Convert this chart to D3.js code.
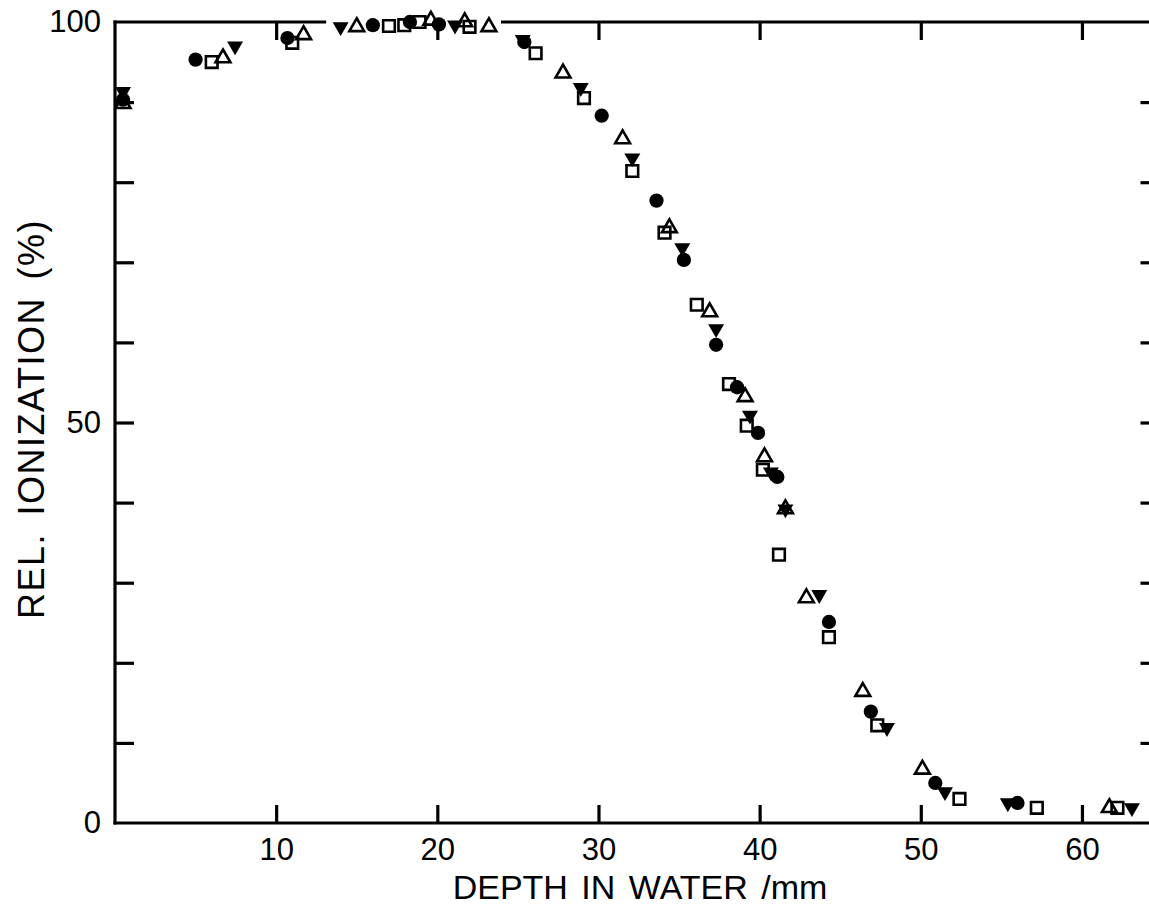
<!DOCTYPE html>
<html>
<head>
<meta charset="utf-8">
<script src="https://cdn.jsdelivr.net/npm/d3@7"></script>
<style>
  body { margin: 0; background: #fff; }
  text { font-family: "Liberation Sans", Arial, Helvetica, sans-serif; fill: #000; }
</style>
</head>
<body>
<svg id="chart" width="1149" height="906"></svg>
<script>
(function(){

  // depth (mm) / relative ionization (%) for each marker type
  const circleDepth = [0.5, 5.0, 10.7, 16.0, 18.3, 20.1, 25.4, 30.2, 33.6, 35.3, 37.3, 38.6, 39.9, 41.1, 44.3, 46.9, 50.9, 56.0]
  const circleIon   = [90.3, 95.3, 98.0, 99.6, 100.0, 99.7, 97.5, 88.3, 77.7, 70.3, 59.7, 54.4, 48.7, 43.2, 25.1, 13.9, 5.0, 2.5]

  const squareDepth = [6.0, 11.0, 17.0, 17.95, 18.9, 22.0, 26.1, 29.1, 32.1, 34.1, 36.1, 38.1, 39.2, 40.2, 41.2, 44.3, 47.3, 52.4, 57.2, 62.2]
  const squareIon   = [95.0, 97.4, 99.5, 99.6, 100.0, 99.4, 96.1, 90.5, 81.4, 73.7, 64.7, 54.8, 49.6, 44.1, 33.5, 23.2, 12.2, 3.0, 1.9, 1.9]

  const triUpDepth = [0.5, 6.7, 11.7, 15.0, 19.6, 21.7, 23.2, 27.8, 31.5, 34.4, 36.9, 39.1, 40.3, 41.6, 42.9, 46.4, 50.1, 61.7]
  const triUpIon   = [89.8, 95.5, 98.4, 99.4, 100.2, 100.0, 99.4, 93.6, 85.4, 74.3, 63.8, 53.2, 45.7, 39.2, 28.1, 16.4, 6.7, 1.9]

  const triDownDepth = [0.5, 7.45, 14.0, 21.1, 25.3, 28.9, 32.1, 35.2, 37.3, 39.4, 40.7, 41.6, 43.7, 47.9, 51.5, 55.4, 63.1]
  const triDownIon   = [91.3, 97.0, 99.4, 99.6, 97.8, 91.8, 83.0, 71.8, 61.7, 50.9, 43.8, 39.2, 28.5, 11.9, 3.9, 2.5, 1.9]

  const xTicks = [10, 20, 30, 40, 50, 60]
  const yTicks = [0, 10, 20, 30, 40, 50, 60, 70, 80, 90, 100]
  const yLabels = [0, 50, 100]

  const xTitle = 'DEPTH IN WATER /mm'
  const yTitle = 'REL. IONIZATION (%)'

  const svg = d3.select('#chart')

  const x = d3.scaleLinear().domain([0, 64.75]).range([115, 1158.5])
  const y = d3.scaleLinear().domain([0, 100]).range([823, 22])

  const lw = 3.2

  // frame: the top edge is broken where the plateau points sit
  const frame = svg.append('g').attr('stroke', '#000').attr('stroke-width', lw)
  frame.append('line').attr('x1', x(0)).attr('x2', x(0)).attr('y1', y(100) - 1.5).attr('y2', y(0) + 1.5)
  frame.append('line').attr('x1', x(0) - 1.5).attr('x2', x(64.75)).attr('y1', y(0)).attr('y2', y(0))
  frame.append('line').attr('x1', x(0) - 1.5).attr('x2', x(13.1)).attr('y1', y(100)).attr('y2', y(100))
  frame.append('line').attr('x1', x(23.95)).attr('x2', x(64.75)).attr('y1', y(100)).attr('y2', y(100))
  frame.append('line').attr('x1', x(64.75)).attr('x2', x(64.75)).attr('y1', y(100)).attr('y2', y(0))

  function styleAxis(g) {
    g.select('.domain').remove()
    g.selectAll('.tick line').attr('stroke', '#000').attr('stroke-width', lw)
    g.selectAll('.tick text').attr('font-size', 31).attr('fill', '#000')
      .attr('font-family', '"Liberation Sans", Arial, sans-serif')
  }

  svg.append('g').attr('transform', `translate(0,${y(0)})`)
    .call(d3.axisBottom(x).tickValues(xTicks).tickSizeInner(-18).tickSizeOuter(0).tickPadding(15))
    .call(styleAxis)

  svg.append('g').attr('transform', `translate(0,${y(100)})`)
    .call(d3.axisTop(x).tickValues(xTicks).tickSizeInner(-18).tickSizeOuter(0).tickFormat(''))
    .call(styleAxis)

  svg.append('g').attr('transform', `translate(${x(0)},0)`)
    .call(d3.axisLeft(y).tickValues(yTicks).tickSizeInner(-19).tickSizeOuter(0).tickPadding(14)
      .tickFormat(d => yLabels.includes(d) ? d : ''))
    .call(styleAxis)
    .call(g => g.selectAll('.tick line').filter(d => d === 0 || d === 100).remove())

  svg.append('g').attr('transform', `translate(${x(64.75)},0)`)
    .call(d3.axisRight(y).tickValues(yTicks.filter(d => d > 0 && d < 100)).tickSizeInner(-18).tickSizeOuter(0).tickFormat(''))
    .call(styleAxis)

  // titles
  svg.append('text').attr('x', 640).attr('y', 899)
    .attr('text-anchor', 'middle').attr('font-size', 34).attr('word-spacing', 4)
    .text(xTitle)

  svg.append('text').attr('transform', 'translate(44,419) rotate(-90)')
    .attr('text-anchor', 'middle').attr('font-size', 36)
    .attr('letter-spacing', 1.5).attr('word-spacing', 6)
    .text(yTitle)

  // markers
  const series = [
    { depth: circleDepth, ion: circleIon, type: d3.symbolCircle, size: 160, fill: '#000', stroke: 'none', rot: 0 },
    { depth: squareDepth, ion: squareIon, type: d3.symbolSquare, size: 135, fill: 'none', stroke: '#000', rot: 0 },
    { depth: triUpDepth, ion: triUpIon, type: d3.symbolTriangle, size: 95, fill: 'none', stroke: '#000', rot: 0 },
    { depth: triDownDepth, ion: triDownIon, type: d3.symbolTriangle, size: 110, fill: '#000', stroke: 'none', rot: 180 }
  ]

  series.forEach(function(s) {
    const pts = s.depth.map((d, i) => [d, s.ion[i]])
    svg.append('g').selectAll('path').data(pts).enter().append('path')
      .attr('d', d3.symbol().type(s.type).size(s.size))
      .attr('transform', d => `translate(${x(d[0])},${y(d[1])}) rotate(${s.rot})`)
      .attr('fill', s.fill)
      .attr('stroke', s.stroke)
      .attr('stroke-width', 2.6)
  })

})()
</script>
</body>
</html>
